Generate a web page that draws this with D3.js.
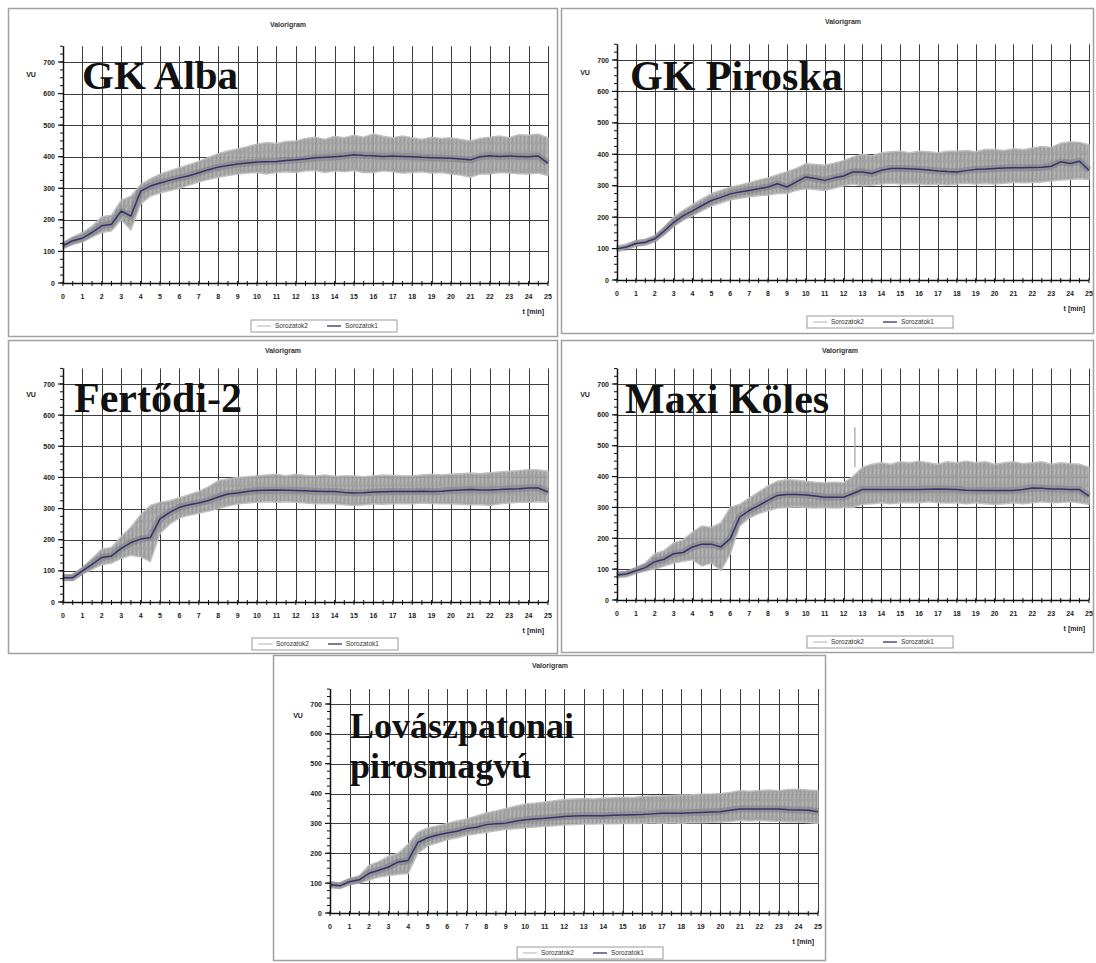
<!DOCTYPE html>
<html>
<head>
<meta charset="utf-8">
<script src="https://cdn.jsdelivr.net/npm/d3@7"></script>
<style>
  html, body { margin: 0; padding: 0; background: #fff; }
  svg { display: block; }
</style>
</head>
<body>
<svg id="chart" width="1096" height="963"></svg>
<script>
// Sample times (min) shared by all valorigrams
const minutes = [0,0.5,1,1.5,2,2.5,3,3.5,4,4.5,5,5.5,6,6.5,7,7.5,8,8.5,9,9.5,10,10.5,11,11.5,12,12.5,
  13,13.5,14,14.5,15,15.5,16,16.5,17,17.5,18,18.5,19,19.5,20,20.5,21,21.5,22,22.5,23,23.5,24,24.5,25];

const yTicks = [0,100,200,300,400,500,600,700];
const xTicks = [0,1,2,3,4,5,6,7,8,9,10,11,12,13,14,15,16,17,18,19,20,21,22,23,24,25];
const seriesNames = ["Sorozatok2", "Sorozatok1"];

// GK Alba
const albaMean = [118,134,142,160,181,186,228,212,291,307,317,325,333,340,349,359,367,372,377,380,383,384,385,388,390,393,
  397,398,400,402,406,404,403,401,402,401,400,398,397,396,395,393,390,400,403,401,402,401,400,402,380];
const albaLo = [110,122,130,145,160,165,200,168,250,275,285,293,300,310,320,328,335,340,345,348,350,345,350,352,350,355,
  356,350,355,352,356,350,350,355,352,348,350,352,348,350,345,342,335,345,345,350,348,346,345,348,340];
const albaHi = [126,145,160,180,210,215,262,275,312,330,345,355,365,375,385,398,410,418,425,432,440,445,442,448,450,458,
  462,455,465,460,468,462,472,465,460,466,460,455,462,458,460,455,450,458,462,466,460,470,468,472,460];

// GK Piroska
const piroskaMean = [99,105,116,120,131,156,183,204,220,237,253,263,274,280,285,290,296,306,296,312,328,323,317,325,331,344,
  344,339,349,355,355,354,352,350,347,345,344,348,352,353,355,356,357,357,358,359,362,376,371,378,349];
const piroskaLo = [95,100,110,113,124,145,170,190,205,220,235,245,255,260,265,268,270,275,275,285,290,288,285,292,300,305,
  300,302,305,308,305,306,305,303,305,302,305,308,305,307,305,308,310,309,310,312,315,318,320,322,320];
const piroskaHi = [105,110,125,128,140,168,200,222,240,258,275,285,295,302,310,318,325,335,345,355,370,368,365,372,380,392,
  400,395,405,408,410,405,410,408,405,410,410,412,408,415,415,412,418,415,420,425,422,435,440,438,430];

// Fertődi-2
const fertodiMean = [78,78,100,121,143,148,172,191,202,207,267,288,304,312,318,326,337,347,350,355,358,359,360,359,358,357,
  356,355,355,352,350,351,353,354,355,355,355,356,355,356,358,360,361,360,360,361,363,364,366,366,353];
const fertodiLo = [70,70,90,105,120,125,140,150,145,130,220,250,270,278,285,292,300,308,315,318,320,322,320,322,320,318,
  315,316,315,312,310,312,315,314,315,316,315,318,316,315,315,314,312,313,310,315,318,320,320,322,320];
const fertodiHi = [88,88,110,140,170,175,210,240,280,310,320,325,335,345,355,370,390,395,400,402,405,408,410,405,410,406,
  405,408,404,405,405,402,405,408,406,405,405,408,410,408,410,412,414,412,415,418,420,422,425,424,420];

// Maxi Köles
const kolesMean = [81,84,95,105,124,132,150,154,172,181,181,172,199,269,290,306,323,339,342,342,340,337,333,333,333,345,
  358,358,358,358,358,358,358,359,360,359,358,356,355,355,355,355,355,358,363,362,360,360,358,358,337];
const kolesLo = [75,78,88,95,100,110,120,125,130,110,120,95,150,240,265,280,290,298,300,302,300,298,300,298,300,300,
  310,312,315,312,315,316,315,318,315,314,315,312,315,312,310,312,315,312,315,318,315,316,318,315,310];
const kolesHi = [90,92,105,120,150,160,185,195,220,240,235,250,300,310,330,350,370,385,390,388,385,382,380,382,380,400,
  430,440,445,440,448,445,450,445,440,448,445,450,445,448,440,445,448,442,445,448,440,445,442,440,430];
// single reading spike of Maxi Köles: [min, VU]
const kolesSpike = [12.6, 560];

// Lovászpatonai pirosmagvú
const lovaszMean = [95,91,105,111,133,143,154,171,176,236,252,261,268,274,283,287,296,299,301,307,312,315,317,320,323,325,
  326,326,326,327,328,329,330,332,334,334,334,336,337,338,339,344,348,348,348,348,348,346,345,344,339];
const lovaszLo = [85,84,95,100,110,120,125,130,132,200,225,235,245,252,260,265,270,275,280,282,285,288,290,292,295,296,
  298,298,300,299,300,300,300,302,300,302,300,303,302,304,305,306,310,308,310,308,306,305,305,303,300];
const lovaszHi = [105,100,115,125,160,172,190,200,230,270,285,292,300,308,315,325,335,342,350,358,365,368,372,376,380,382,
  384,382,385,386,388,386,390,392,392,394,395,396,398,398,400,404,410,408,410,412,410,414,415,412,410];

// Panel layout: frame, plot extents and text anchors
const panels = [
  { label: ["GK Alba"], mean: albaMean, lo: albaLo, hi: albaHi,
    box: [8, 8, 549, 328], xr: [63, 548], y0: 283, y700: 62,
    title: [288, 27], legend: [324, 326], vu: [31, 77], labelPos: [82, 89], labelSize: 41 },
  { label: ["GK Piroska"], mean: piroskaMean, lo: piroskaLo, hi: piroskaHi,
    box: [561, 8, 532, 325], xr: [617, 1089], y0: 280, y700: 60,
    title: [843, 24], legend: [880, 322], vu: [585, 75], labelPos: [630, 90], labelSize: 42 },
  { label: ["Fertődi-2"], mean: fertodiMean, lo: fertodiLo, hi: fertodiHi,
    box: [8, 340, 549, 313], xr: [63, 548], y0: 602, y700: 384,
    title: [283, 353], legend: [325, 644], vu: [31, 397], labelPos: [74, 412], labelSize: 42 },
  { label: ["Maxi Köles"], mean: kolesMean, lo: kolesLo, hi: kolesHi, spike: kolesSpike,
    box: [561, 340, 532, 312], xr: [617, 1089], y0: 600, y700: 384,
    title: [840, 353], legend: [880, 642], vu: [585, 397], labelPos: [625, 413], labelSize: 42 },
  { label: ["Lovászpatonai", "pirosmagvú"], mean: lovaszMean, lo: lovaszLo, hi: lovaszHi,
    box: [273, 655, 552, 305], xr: [330, 818], y0: 913, y700: 704,
    title: [550, 668], legend: [590, 953], vu: [298, 718], labelPos: [350, 738], labelSize: 36 }
];

const svg = d3.select("#chart");
const sans = "'Liberation Sans', Arial, sans-serif";
const serif = "'Liberation Serif', 'Times New Roman', serif";

// Fine striated fill for the dense raw readings
const defs = svg.append("defs");
const pat = defs.append("pattern").attr("id", "rawFill")
  .attr("patternUnits", "userSpaceOnUse").attr("width", 4).attr("height", 9);
pat.append("rect").attr("width", 4).attr("height", 9).attr("fill", "#a3a3a3");
pat.append("rect").attr("x", 0).attr("width", 1).attr("height", 9).attr("fill", "#979797");
pat.append("rect").attr("x", 2).attr("y", 1).attr("width", 1).attr("height", 6).attr("fill", "#b2b2b2");
pat.append("rect").attr("x", 3).attr("y", 4).attr("width", 1).attr("height", 5).attr("fill", "#9c9c9c");

panels.forEach(p => {
  const g = svg.append("g");
  const [bx, by, bw, bh] = p.box;

  g.append("rect").attr("x", bx + 0.5).attr("y", by + 0.5).attr("width", bw).attr("height", bh)
    .attr("fill", "#fff").attr("stroke", "#a0a0a0").attr("stroke-width", 1.5);

  const x = d3.scaleLinear().domain([0, 25]).range(p.xr);
  const y = d3.scaleLinear().domain([0, 700]).range([p.y0, p.y700]);
  const yTop = y(750);

  // title
  g.append("text").attr("x", p.title[0]).attr("y", p.title[1])
    .attr("text-anchor", "middle").attr("font-family", sans).attr("font-size", 7)
    .attr("font-weight", "bold").attr("fill", "#333").text("Valorigram");

  // grid
  const grid = g.append("g").attr("stroke", "#3c3c3c").attr("stroke-width", 1);
  grid.selectAll(".h").data(yTicks.filter(v => v > 0)).join("line")
    .attr("x1", p.xr[0]).attr("x2", p.xr[1])
    .attr("y1", d => Math.round(y(d)) + 0.5).attr("y2", d => Math.round(y(d)) + 0.5);
  grid.selectAll(".v").data(xTicks.filter(v => v > 0)).join("line")
    .attr("x1", d => Math.round(x(d)) + 0.5).attr("x2", d => Math.round(x(d)) + 0.5)
    .attr("y1", yTop).attr("y2", p.y0);

  // raw readings band (Sorozatok2)
  const rows = minutes.map((t, i) => ({ t, lo: p.lo[i], hi: p.hi[i], m: p.mean[i] }));
  const band = d3.area().x(d => x(d.t)).y0(d => y(d.lo)).y1(d => y(d.hi)).curve(d3.curveLinear);
  g.append("path").datum(rows).attr("d", band)
    .attr("fill", "url(#rawFill)").attr("stroke", "#bdbdbd").attr("stroke-width", 1.4)
    .attr("opacity", 0.95);
  if (p.spike) {
    const i = minutes.findIndex(t => t >= p.spike[0]);
    g.append("line").attr("x1", x(p.spike[0])).attr("x2", x(p.spike[0]))
      .attr("y1", y(p.hi[i])).attr("y2", y(p.spike[1]))
      .attr("stroke", "#a8a8a8").attr("stroke-width", 1.3);
  }

  // averaged curve (Sorozatok1)
  const line = d3.line().x(d => x(d.t)).y(d => y(d.m));
  g.append("path").datum(rows).attr("d", line)
    .attr("fill", "none").attr("stroke", "#7a7a84").attr("stroke-width", 7).attr("opacity", 0.5)
    .attr("stroke-linejoin", "round");
  g.append("path").datum(rows).attr("d", line)
    .attr("fill", "none").attr("stroke", "#33336a").attr("stroke-width", 1.5)
    .attr("stroke-linejoin", "round");

  // axes
  const ax = g.append("g").attr("stroke", "#111");
  ax.append("line").attr("x1", p.xr[0] + 0.5).attr("x2", p.xr[0] + 0.5)
    .attr("y1", yTop).attr("y2", p.y0).attr("stroke-width", 1.5);
  ax.append("line").attr("x1", p.xr[0]).attr("x2", p.xr[1])
    .attr("y1", p.y0 + 0.5).attr("y2", p.y0 + 0.5).attr("stroke-width", 1.5);
  ax.selectAll(".ym").data(d3.range(0, 751, 25)).join("line")
    .attr("x1", p.xr[0] - 3).attr("x2", p.xr[0])
    .attr("y1", d => y(d)).attr("y2", d => y(d)).attr("stroke-width", 1);
  ax.selectAll(".yM").data(yTicks).join("line")
    .attr("x1", p.xr[0] - 5).attr("x2", p.xr[0])
    .attr("y1", d => y(d)).attr("y2", d => y(d)).attr("stroke-width", 1.2);
  ax.selectAll(".xm").data(d3.range(0, 25.01, 0.5)).join("line")
    .attr("x1", d => x(d)).attr("x2", d => x(d))
    .attr("y1", p.y0 - 2).attr("y2", p.y0 + 3).attr("stroke-width", 1);

  // tick labels
  g.append("g").selectAll("text").data(yTicks).join("text")
    .attr("x", p.xr[0] - 8).attr("y", d => y(d) + 2.5)
    .attr("text-anchor", "end").attr("font-family", sans).attr("font-size", 7)
    .attr("font-weight", "bold").attr("fill", "#222").text(d => d);
  g.append("g").selectAll("text").data(xTicks).join("text")
    .attr("x", d => x(d)).attr("y", p.y0 + 16)
    .attr("text-anchor", "middle").attr("font-family", sans).attr("font-size", 7)
    .attr("font-weight", "bold").attr("fill", "#222").text(d => d);

  g.append("text").attr("x", p.vu[0]).attr("y", p.vu[1]).attr("text-anchor", "middle")
    .attr("font-family", sans).attr("font-size", 7).attr("font-weight", "bold").attr("fill", "#222")
    .text("VU");
  g.append("text").attr("x", p.xr[1] - 4).attr("y", p.y0 + 31).attr("text-anchor", "end")
    .attr("font-family", sans).attr("font-size", 7).attr("font-weight", "bold").attr("fill", "#222")
    .text("t [min]");

  // legend
  const lw = 146, lh = 12;
  const lg = g.append("g").attr("transform", `translate(${p.legend[0] - lw / 2},${p.legend[1] - lh / 2})`);
  lg.append("rect").attr("width", lw).attr("height", lh).attr("fill", "#fff")
    .attr("stroke", "#9a9a9a").attr("stroke-width", 1);
  const entries = [
    { name: seriesNames[0], color: "#c4c4c4", dx: 6 },
    { name: seriesNames[1], color: "#33336a", dx: 76 }
  ];
  entries.forEach(e => {
    lg.append("line").attr("x1", e.dx).attr("x2", e.dx + 14).attr("y1", lh / 2).attr("y2", lh / 2)
      .attr("stroke", e.color).attr("stroke-width", 1.3);
    lg.append("text").attr("x", e.dx + 18).attr("y", lh / 2 + 2.3)
      .attr("font-family", sans).attr("font-size", 6.5).attr("fill", "#333").text(e.name);
  });

  // variety name
  p.label.forEach((s, i) => {
    g.append("text").attr("x", p.labelPos[0]).attr("y", p.labelPos[1] + i * 40)
      .attr("font-family", serif).attr("font-size", p.labelSize).attr("font-weight", "bold")
      .attr("fill", "#111").text(s);
  });
});
</script>
</body>
</html>
